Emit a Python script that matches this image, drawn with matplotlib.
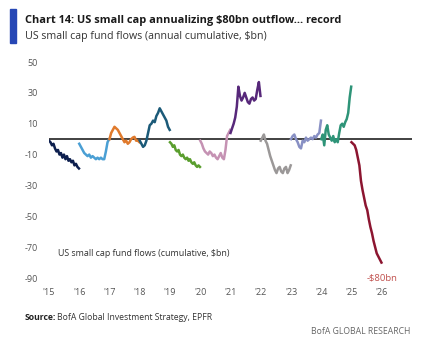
import numpy as np
import matplotlib
matplotlib.use("Agg")
import matplotlib.pyplot as plt
from matplotlib.patches import Rectangle

plt.rcParams['font.family'] = ['Open Sans', 'DejaVu Sans']

years = [2015, 2016, 2017, 2018, 2019, 2020, 2021, 2022, 2023, 2024, 2025]
colors = ['#0d1f4e', '#4a9fd4', '#e07a2c', '#1b5a78', '#5a9e2e', '#c592b3',
          '#57287a', '#9b9898', '#8890c4', '#2e9478', '#8c1530']

flows = {
    2015: [-1, -2, -4, -3, -6, -8, -7, -10, -9, -12, -10, -13, -11, -14, -13, -15, -14, -17, -16, -18, -19],
    2016: [-3, -5, -7, -9, -10, -11, -10, -12, -11, -12, -13, -12, -13, -12, -13, -13, -8, -2, 0],
    2017: [0, 4, 6, 8, 7, 6, 4, 2, 0, -2, -1, -3, -2, 0, 1, 1.5, -1, -1, -2],
    2018: [-1, -3, -5, -4, -1, 4, 9, 10, 12, 11, 15, 17, 20, 18, 16, 14, 12, 8, 6],
    2019: [-2, -3, -5, -4, -7, -8, -7, -10, -11, -10, -12, -13, -12, -14, -13, -15, -16, -15, -17, -18, -17, -18],
    2020: [-1, -3, -6, -8, -9, -10, -8, -9, -11, -10, -12, -13, -11, -9, -12, -13, -7, 2, 4, 6],
    2021: [4, 7, 10, 14, 21, 34, 28, 25, 27, 30, 27, 24, 23, 26, 27, 25, 26, 32, 37, 28],
    2022: [-1, 1, 3, -1, -3, -7, -11, -14, -17, -20, -22, -19, -18, -21, -22, -19, -18, -22, -20, -17],
    2023: [0, 2, 3, 0, -2, -5, -6, -1, -2, 1, -1, 0, 1, 0, 2, 1, 3, 4, 12],
    2024: [0, 3, -4, 6, 9, 3, 1, -1, 2, -2, 0, -2, 4, 9, 10, 8, 11, 13, 17, 27, 34],
    2025: [-2, -3, -4, -7, -12, -17, -27, -33, -38, -43, -46, -52, -57, -61, -66, -70, -74, -76, -78, -80],
}

xtick_years = list(range(2015, 2027))
xtick_labels = ["'15", "'16", "'17", "'18", "'19", "'20", "'21", "'22", "'23", "'24", "'25", "'26"]
yticks = [50, 30, 10, -10, -30, -50, -70, -90]

W, H = 446, 356
fig = plt.figure(figsize=(W / 100, H / 100), dpi=100)
ax = fig.add_axes([49 / W, 1 - 278 / H, (412 - 49) / W, (278 - 62) / H])

for yr, c in zip(years, colors):
    v = flows[yr]
    x = yr + np.linspace(0, 0.99, len(v))
    ax.plot(x, v, color=c, lw=1.8, solid_joinstyle='round')

ax.axhline(0, color='#333333', lw=1.3, zorder=0)

ax.set_xlim(2015, 2027)
ax.set_ylim(-90, 50)
ax.set_xticks(xtick_years)
ax.set_xticklabels(xtick_labels)
ax.set_yticks(yticks)
ax.set_yticklabels([str(t) for t in yticks])
ax.tick_params(axis='both', length=0, labelsize=6.5, colors='#555555')
ax.tick_params(axis='x', pad=7)
ax.tick_params(axis='y', pad=8)
for s in ax.spines.values():
    s.set_visible(False)

ax.text(2015.3, -74, "US small cap fund flows (cumulative, $bn)", fontsize=6.4,
        color='#333333', va='center', ha='left')
ax.text(2026.0, -90, "-$80bn", fontsize=6.8, color='#c0504d', va='center', ha='center')

# header
fig.patches.append(Rectangle((10 / W, 1 - 43 / H), 6 / W, 34 / H, transform=fig.transFigure,
                             color='#2647b5', zorder=5))
fig.text(25 / W, 1 - 21 / H, "Chart 14: US small cap annualizing $80bn outflow... record",
         fontsize=7.95, fontweight='bold', color='#1a1a1a', va='center', ha='left')
fig.text(25 / W, 1 - 37 / H, "US small cap fund flows (annual cumulative, $bn)",
         fontsize=7.7, color='#333333', va='center', ha='left')

# footer
src_y = 1 - 317 / H
t1 = fig.text(25 / W, src_y, "Source:", fontsize=6.2, fontweight='bold', color='#222222',
              va='center', ha='left')
r = fig.canvas.get_renderer()
bb = t1.get_window_extent(renderer=r)
fig.text((bb.x1 + 1) / W, src_y, "BofA Global Investment Strategy, EPFR", fontsize=6.2,
         color='#333333', va='center', ha='left')
fig.text(410 / W, 1 - 331 / H, "BofA GLOBAL RESEARCH", fontsize=6.2, color='#666666',
         va='center', ha='right')

fig.savefig("out.png", dpi=100, facecolor='white')
